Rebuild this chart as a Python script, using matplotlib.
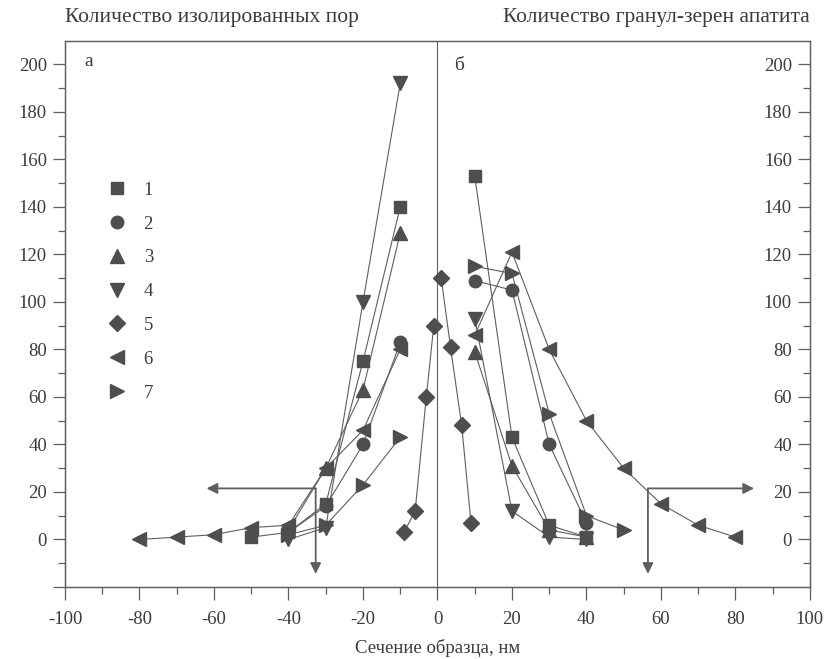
import matplotlib.pyplot as plt
from matplotlib.lines import Line2D
import numpy as np

plt.rcParams['font.family'] = ['Liberation Serif', 'DejaVu Serif']
plt.rcParams['axes.unicode_minus'] = False

# panel "а" (isolated pores), section coordinate in nm, series 1..7
xa1 = [-50, -40, -30, -20, -10]
ya1 = [1, 3, 15, 75, 140]
xa2 = [-40, -30, -20, -10]
ya2 = [3, 14, 40, 83]
xa3 = [-40, -30, -20, -10]
ya3 = [4, 30, 63, 129]
xa4 = [-40, -30, -20, -10]
ya4 = [0, 5, 100, 192]
xa5 = [-9, -6, -3, -1]
ya5 = [3, 12, 60, 90]
xa6 = [-80, -70, -60, -50, -40, -30, -20, -10]
ya6 = [0, 1, 2, 5, 6, 30, 46, 80]
xa7 = [-40, -30, -20, -10]
ya7 = [2, 6, 23, 43]

# panel "б" (apatite granules)
xb1 = [10, 20, 30, 40]
yb1 = [153, 43, 6, 1]
xb2 = [10, 20, 30, 40]
yb2 = [109, 105, 40, 7]
xb3 = [10, 20, 30, 40]
yb3 = [79, 31, 4, 1]
xb4 = [10, 20, 30, 40]
yb4 = [93, 12, 1, 0]
xb5 = [1, 3.5, 6.5, 9]
yb5 = [110, 81, 48, 7]
xb6 = [10, 20, 30, 40, 50, 60, 70, 80]
yb6 = [86, 121, 80, 50, 30, 15, 6, 1]
xb7 = [10, 20, 30, 40, 50]
yb7 = [115, 112, 53, 10, 4]

labels = ['1', '2', '3', '4', '5', '6', '7']
markers = ['s', 'o', '^', 'v', 'D', '<', '>']
sizes = [8, 9, 9.5, 9.5, 8, 9.5, 9.5]

left_title = 'Количество изолированных пор'
right_title = 'Количество гранул-зерен апатита'
xlabel = 'Сечение образца, нм'

mc = '#4e4e4e'
lc = '#5e5e5e'
tc = '#3c3c3c'

fig = plt.figure(figsize=(8.27, 6.59), dpi=100)
ax = fig.add_axes([0.0786, 0.1093, 0.9008, 0.8289])

xs = [xa1, xa2, xa3, xa4, xa5, xa6, xa7, xb1, xb2, xb3, xb4, xb5, xb6, xb7]
ys = [ya1, ya2, ya3, ya4, ya5, ya6, ya7, yb1, yb2, yb3, yb4, yb5, yb6, yb7]
mk = markers * 2
sz = sizes * 2
# lines first, then the markers on top
for x, y in zip(xs, ys):
    ax.plot(x, y, '-', color=lc, lw=0.8, zorder=2)
for x, y, m, s in zip(xs, ys, mk, sz):
    ax.plot(x, y, ls='none', marker=m, ms=s, color=mc, mec=mc, zorder=3)

ax.axvline(0, color=lc, lw=0.8, zorder=1)

# arrows
ap = dict(arrowstyle='-|>', color=lc, lw=1.3, mutation_scale=16, shrinkA=0, shrinkB=0)
ax.annotate('', xy=(-62, 21.5), xytext=(-32.7, 21.5), arrowprops=ap)
ax.annotate('', xy=(-32.7, -14.5), xytext=(-32.7, 21.5), arrowprops=ap)
ax.annotate('', xy=(85, 21.5), xytext=(56.5, 21.5), arrowprops=ap)
ax.annotate('', xy=(56.5, -14.5), xytext=(56.5, 21.5), arrowprops=ap)

ax.set_xlim(-100, 100)
ax.set_ylim(-20, 210)
ax.set_xticks(np.arange(-100, 101, 20))
ax.set_xticks(np.arange(-90, 100, 20), minor=True)
yt = np.arange(-20, 201, 20)
ax.set_yticks(yt)
ax.set_yticklabels(['' if v < 0 else str(v) for v in yt])
ax.set_yticks(np.arange(-10, 210, 20), minor=True)
ax.tick_params(axis='both', which='major', direction='out', length=9, width=0.9,
               colors=lc, labelcolor=tc, labelsize=13.5, pad=4)
ax.tick_params(axis='both', which='minor', direction='out', length=5, width=0.9, colors=lc)
ax.tick_params(axis='x', pad=8)

ax2 = ax.twinx()
ax2.set_ylim(-20, 210)
ax2.set_yticks(np.arange(0, 201, 20))
ax2.set_yticks(np.arange(-10, 210, 20), minor=True)
ax2.tick_params(axis='y', which='major', direction='in', length=9, width=0.9,
                colors=lc, labelcolor=tc, labelsize=13.5, pad=-13)
ax2.tick_params(axis='y', which='minor', direction='in', length=5, width=0.9, colors=lc)
for t in ax2.get_yticklabels():
    t.set_ha('right')

for a in (ax, ax2):
    for sp in a.spines.values():
        sp.set_color(lc)
        sp.set_linewidth(0.9)

# legend
handles = [Line2D([], [], ls='none', marker=m, ms=s, color=mc) for m, s in zip(markers, sizes)]
ax.legend(handles, labels, loc='upper left', bbox_to_anchor=(0.035, 0.773), frameon=False,
          fontsize=13.5, labelspacing=0.89, handlelength=1.0, handletextpad=0.9,
          labelcolor=tc)

ax.text(0.026, 0.962, 'а', transform=ax.transAxes, fontsize=14, color=tc, va='center')
ax.text(0.522, 0.955, 'б', transform=ax.transAxes, fontsize=14, color=tc, va='center')
ax.text(0.0, 1.042, left_title, transform=ax.transAxes, fontsize=15.5, color=tc,
        ha='left', va='center')
ax.text(1.0, 1.042, right_title, transform=ax.transAxes, fontsize=15.5, color=tc,
        ha='right', va='center')
ax.set_xlabel(xlabel, fontsize=13.5, color=tc, labelpad=8)

fig.savefig('out.png', dpi=100)
